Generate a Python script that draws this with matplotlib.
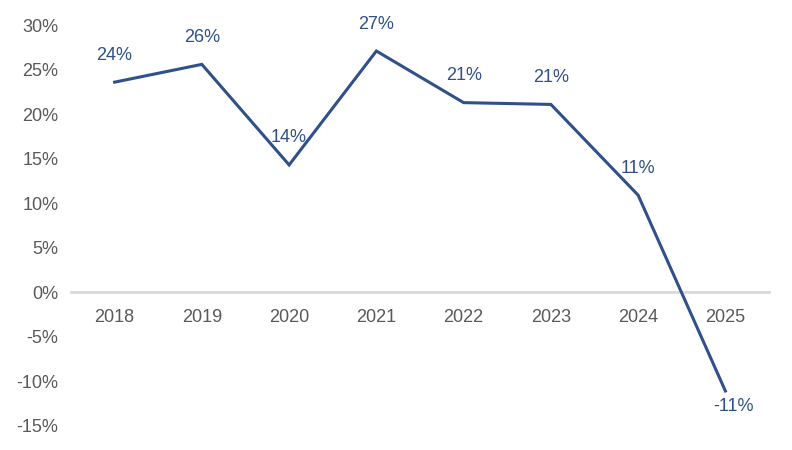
import matplotlib
matplotlib.use("Agg")
import matplotlib.pyplot as plt
from matplotlib.ticker import FuncFormatter

years = ["2018", "2019", "2020", "2021", "2022", "2023", "2024", "2025"]
growth = [23.6, 25.6, 14.3, 27.1, 21.3, 21.1, 10.9, -11.1]
labels = ["24%", "26%", "14%", "27%", "21%", "21%", "11%", "-11%"]

LINE = "#2F5089"
GRAY = "#595959"

plt.rcParams["font.family"] = ["Liberation Sans", "DejaVu Sans"]

fig = plt.figure(figsize=(7.92, 4.5), dpi=100)
ax = fig.add_axes([0.0896, 0.054, 0.8814, 0.890])

x = list(range(len(years)))
ax.plot(x, growth, color=LINE, linewidth=2.2, solid_joinstyle="miter")

for xi, v, lab in zip(x, growth, labels):
    # negative label sits below the point, nudged right like the source
    off = (8, -16) if v < 0 else (0, 27)
    ax.annotate(lab, (xi, v), xytext=off, textcoords="offset pixels",
                ha="center", va="center", fontsize=13, color=LINE)

ax.set_xlim(-0.5, len(years) - 0.5)
ax.set_ylim(-15, 30)
ax.set_yticks(range(-15, 31, 5))
ax.yaxis.set_major_formatter(FuncFormatter(lambda v, _: f"{v:.0f}%"))
ax.set_xticks(x)
ax.set_xticklabels(years)

for s in ["top", "right", "left"]:
    ax.spines[s].set_visible(False)
ax.spines["bottom"].set_position(("data", 0))
ax.spines["bottom"].set_color("#D9D9D9")
ax.spines["bottom"].set_linewidth(2)
ax.spines["bottom"].set_zorder(0)

ax.tick_params(axis="both", length=0, labelsize=13, labelcolor=GRAY)
ax.tick_params(axis="x", pad=12)
ax.tick_params(axis="y", pad=9)

fig.savefig("out.png", dpi=100)
